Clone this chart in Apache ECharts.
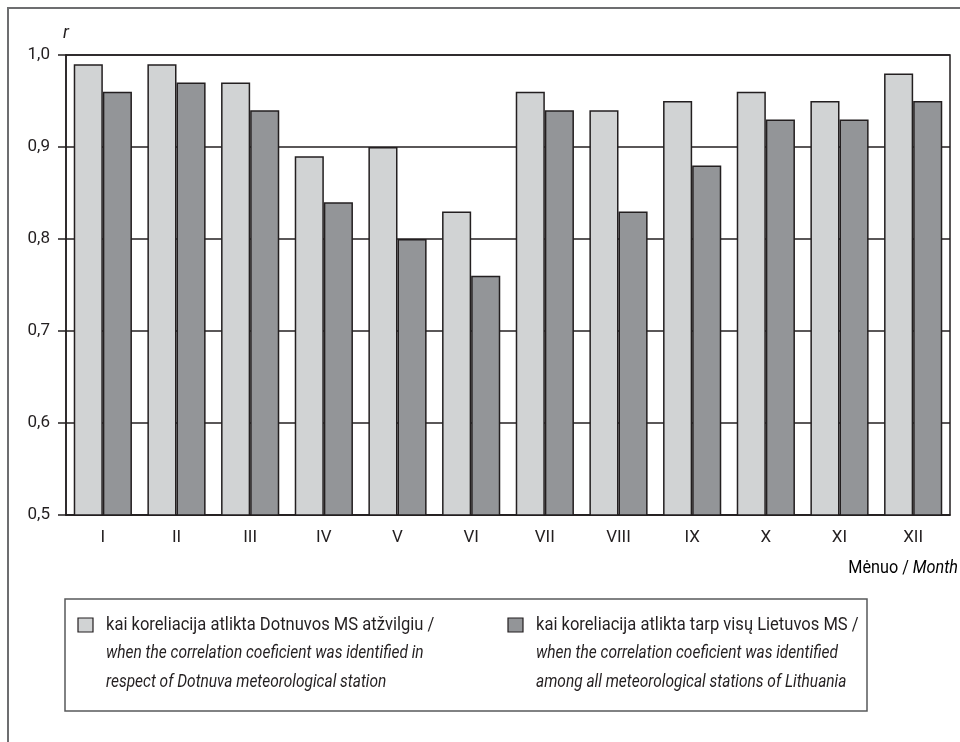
<!DOCTYPE html>
<html>
<head>
<meta charset="utf-8">
<script src="https://cdn.jsdelivr.net/npm/echarts@6/dist/echarts.min.js"></script>
<style>
  html, body { margin: 0; padding: 0; background: #fff; }
  #chart { width: 960px; height: 742px; }
</style>
</head>
<body>
<div id="chart"></div>
<script>
// menesiai
const months = ['I', 'II', 'III', 'IV', 'V', 'VI', 'VII', 'VIII', 'IX', 'X', 'XI', 'XII'];
// koreliacija su Dotnuvos MS
const dotnuva = [0.99, 0.99, 0.97, 0.89, 0.90, 0.83, 0.96, 0.94, 0.95, 0.96, 0.95, 0.98];
// koreliacija tarp visu Lietuvos MS
const lietuva = [0.96, 0.97, 0.94, 0.84, 0.80, 0.76, 0.94, 0.83, 0.88, 0.93, 0.93, 0.95];

const legendDotnuva = [
  'kai koreliacija atlikta Dotnuvos MS atžvilgiu /',
  'when the correlation coeficient was identified in',
  'respect of Dotnuva meteorological station'
];
const legendLietuva = [
  'kai koreliacija atlikta tarp visų Lietuvos MS /',
  'when the correlation coeficient was identified',
  'among all meteorological stations of Lithuania'
];

const font = "'Liberation Sans Narrow', 'Roboto', sans-serif";
const ink = '#231f20';
const light = '#d1d3d4';
const dark = '#939598';

let chart = echarts.init(document.getElementById('chart'), null, { renderer: 'canvas' });

// legendos blokas (piesiamas ranka, nes tekstas keliu eiluciu)
function legendBlock(x, y, color, lines) {
  var items = [{
    type: 'rect',
    shape: { x: x, y: y - 7, width: 15, height: 14 },
    style: { fill: color, stroke: ink, lineWidth: 1.2 }
  }];
  lines.forEach(function (line, i) {
    items.push({
      type: 'text',
      x: x + 28,
      y: y + i * 28.5,
      scaleX: i === 0 ? 0.92 : 0.86, // siauresnis sriftas
      style: {
        text: line,
        font: (i === 0 ? 'normal ' : 'italic ') + '18px ' + font,
        fill: ink,
        verticalAlign: 'middle'
      }
    });
  });
  return items;
}

var option = {
  animation: false,
  grid: {
    left: 66,
    right: 10,
    top: 55,
    bottom: 227,
    show: true,
    borderColor: ink,
    borderWidth: 1.5
  },
  xAxis: {
    type: 'category',
    data: months,
    axisLine: { lineStyle: { color: ink, width: 1.5 } },
    axisTick: { length: 8, lineStyle: { color: ink, width: 1.5 } },
    axisLabel: { color: ink, fontFamily: font, fontSize: 17, margin: 14 }
  },
  yAxis: {
    type: 'value',
    min: 0.5,
    max: 1.0,
    interval: 0.1,
    axisLine: { show: true, lineStyle: { color: ink, width: 1.5 } },
    axisTick: { show: true, length: 8, lineStyle: { color: ink, width: 1.5 } },
    splitLine: { lineStyle: { color: ink, width: 1.5 } },
    axisLabel: {
      color: ink,
      fontFamily: font,
      fontSize: 17,
      margin: 16,
      formatter: function (v) { return v.toFixed(1).replace('.', ','); }
    }
  },
  series: [{
      name: 'Dotnuva',
      type: 'bar',
      data: dotnuva,
      barGap: '0%',
      barCategoryGap: '21%',
      itemStyle: { color: light, borderColor: ink, borderWidth: 1.5 }
    },
    {
      name: 'Lietuva',
      type: 'bar',
      data: lietuva,
      itemStyle: { color: dark, borderColor: ink, borderWidth: 1.5 }
    }
  ],
  graphic: [
    // isorinis remelis
    {
      type: 'rect',
      shape: { x: 8, y: 8, width: 1000, height: 800 },
      style: { fill: 'none', stroke: '#6d6e70', lineWidth: 2 },
      silent: true
    },
    {
      type: 'text',
      x: 63,
      y: 33,
      style: { text: 'r', font: 'italic 18px ' + font, fill: ink, verticalAlign: 'middle' }
    },
    {
      type: 'text',
      x: 958,
      y: 568,
      scaleX: 0.9,
      style: {
        text: '{n|Mėnuo / }{m|Month}',
        align: 'right',
        verticalAlign: 'middle',
        rich: {
          n: { fontFamily: font, fontSize: 18, color: ink },
          m: { fontFamily: font, fontSize: 18, fontStyle: 'italic', color: ink }
        }
      }
    },
    {
      type: 'rect',
      shape: { x: 65, y: 599, width: 802, height: 112 },
      style: { fill: '#fff', stroke: '#58595b', lineWidth: 1.5 }
    }
  ].concat(legendBlock(78, 625, light, legendDotnuva))
    .concat(legendBlock(508, 625, dark, legendLietuva))
};

chart.setOption(option);
</script>
</body>
</html>
